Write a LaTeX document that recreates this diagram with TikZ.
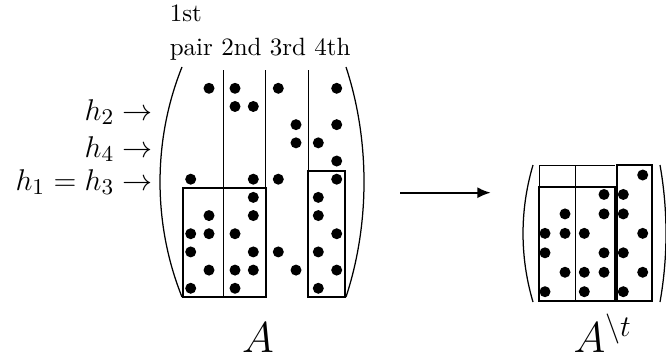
\documentclass[tikz,border=0pt]{standalone}
\usepackage{amsmath,amssymb}
\usetikzlibrary{arrows.meta}
\begin{document}
\begin{tikzpicture}[x=0.4pt,y=-0.4pt,
  thinline/.style={line width=0.4pt},
  thickbox/.style={line width=0.9pt},
  paren/.style={line width=0.5pt},
  dotmark/.style={fill=black},
  hdr/.style={inner sep=0pt,font=\fontsize{10}{12}\selectfont},
  hlab/.style={inner sep=0pt,font=\fontsize{12.4}{14}\selectfont},
  mname/.style={inner sep=0pt,font=\fontsize{16.5}{19}\selectfont}]
\useasboundingbox (0,0) rectangle (666,360);
% ---------- left matrix ----------
\draw[paren] (182,67) .. controls (152.7,140) and (152.7,224) .. (182,297);
\draw[paren] (346,67) .. controls (370,140) and (370,224) .. (346,297);
\draw[thinline] (223.3,70) -- (223.3,296.7);
\draw[thinline] (265.7,70) -- (265.7,188.3);
\draw[thinline] (308.3,70) -- (308.3,170.7);
\draw[thickbox] (182.7,188.3) rectangle (265.7,296.7);
\draw[thickbox] (308.3,170.7) rectangle (345,296.7);
\foreach \r/\cl in {1/{2,3,5,8},2/{3,4},3/{6,8},4/{6,7},5/{8},6/{1,4,5,8},
  7/{4,7},8/{2,4,7},9/{1,2,3,8},10/{1,4,5,7},11/{2,3,4,6,8},12/{1,3,7}}{
  \foreach \c in \cl {
    \pgfmathsetmacro\xx{{190.7,209,235,253.3,278.3,296,318.3,336.7}[\c-1]}
    \pgfmathsetmacro\yy{88.3+(\r-1)*18.18}
    \fill[dotmark] (\xx,\yy) circle[radius=2.2pt];
  }
}
% headers
\node[hdr,anchor=base west] (h1st) at (169.3,21.7) {1st};
\node[hdr,anchor=base west] (hpair) at (169.3,55) {pair 2nd 3rd 4th};
% row labels
\node[hlab,anchor=base east] (lh2) at (153.3,120) {$h_2\rightarrow$};
\node[hlab,anchor=base east] (lh4) at (153.3,157) {$h_4\rightarrow$};
\node[hlab,anchor=base east] (lh13) at (153.3,190) {$h_1=h_3\rightarrow$};
% ---------- arrow ----------
\coordinate (arrA) at (400,192.7);
\coordinate (arrB) at (490.7,192.7);
\draw[line width=0.8pt,-{Latex[length=5.3pt,width=4.4pt]}] (arrA) -- (arrB);
% ---------- right matrix ----------
\draw[paren] (533,165) .. controls (519.7,210) and (519.7,257) .. (533,302);
\draw[paren] (660,165) .. controls (668,210) and (668,257) .. (660,302);
\draw[thinline] (539,187.3) -- (539,165) -- (615,165);
\draw[thinline] (575.7,165) -- (575.7,300.7);
\draw[thickbox] (539,187.3) rectangle (615,300.7);
\draw[thickbox] (616.7,165) rectangle (651.7,300.7);
\foreach \r/\cl in {1/{6},2/{4,5},3/{2,4,5},4/{1,2,3,6},5/{1,4,5},6/{2,3,4,6},7/{1,3,5}}{
  \foreach \c in \cl {
    \pgfmathsetmacro\xx{{545,565,584.3,604,623.3,642.7}[\c-1]}
    \pgfmathsetmacro\yy{175+(\r-1)*19.45}
    \fill[dotmark] (\xx,\yy) circle[radius=2.2pt];
  }
}
% names
\node[mname,anchor=base] (nA) at (258,352) {$A$};
\node[mname,anchor=base west] (nAt) at (573,352) {$A^{\setminus t}$};
\end{tikzpicture}
\end{document}
